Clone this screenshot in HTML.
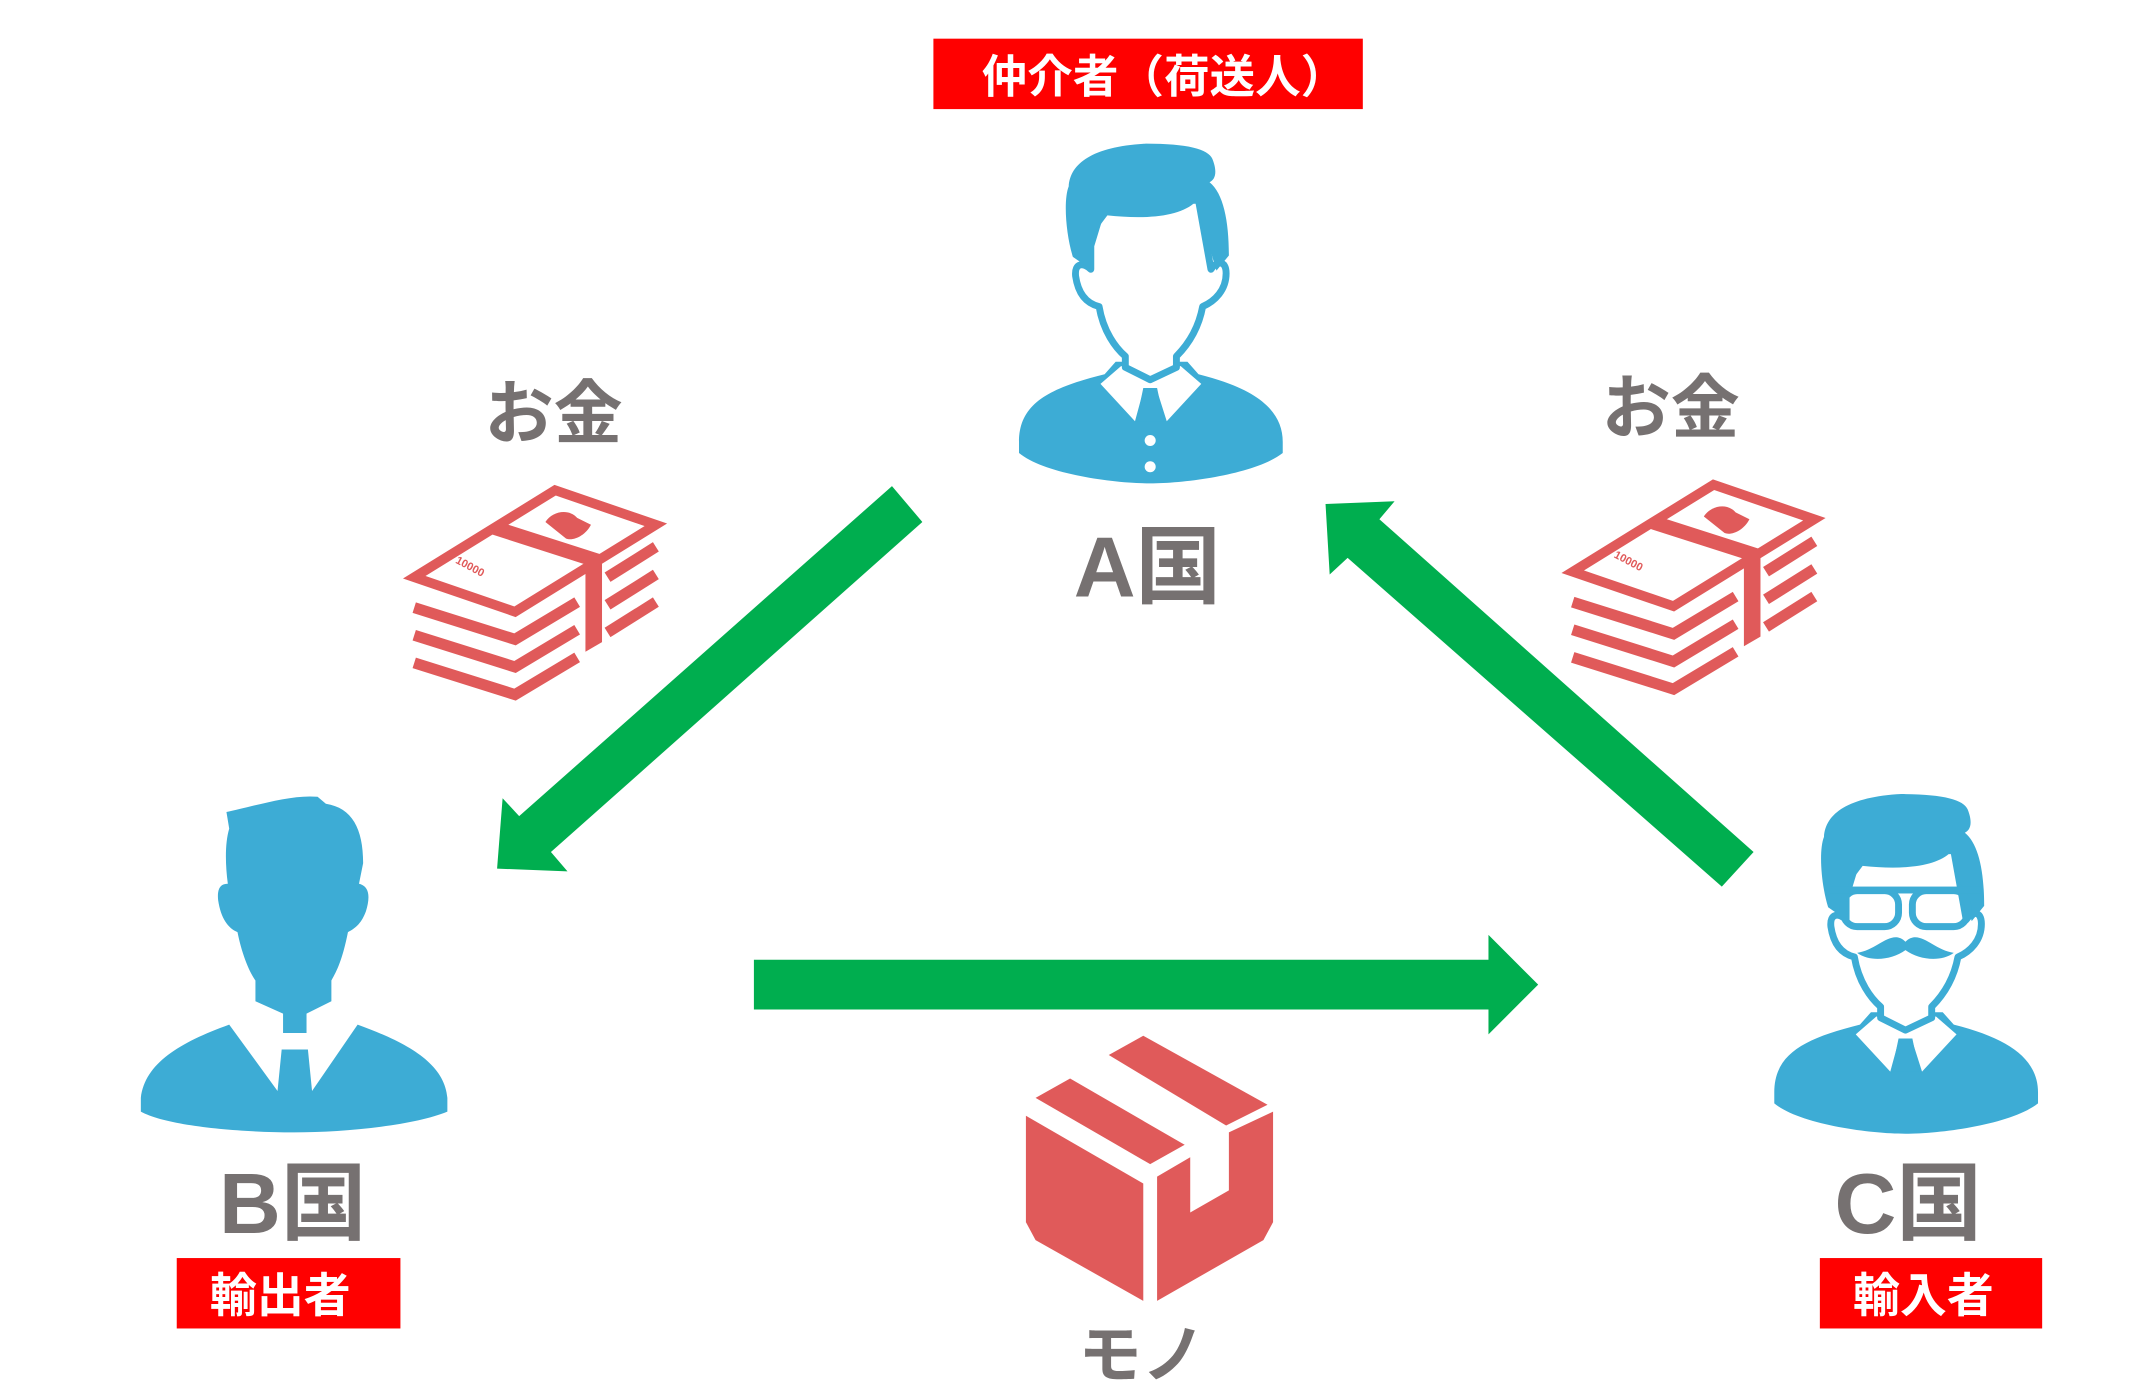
<!DOCTYPE html>
<html><head><meta charset="utf-8"><style>
html,body{margin:0;padding:0;background:#fff;}
svg{display:block;}
text{font-family:"Liberation Sans","Noto Sans CJK JP",sans-serif;font-weight:bold;}
</style></head><body>
<svg width="2154" height="1392" viewBox="0 0 1560 1008" preserveAspectRatio="none" xmlns="http://www.w3.org/2000/svg">
<defs>
<g id="money">
  <polygon points="300,418 402,355 475,380 373,443" fill="none" stroke="#e05a5a" stroke-width="7" stroke-linejoin="miter"/>
  <polyline points="300,440 373,463 418,436" fill="none" stroke="#e05a5a" stroke-width="8"/>
  <polyline points="300,460 373,483 418,456" fill="none" stroke="#e05a5a" stroke-width="8"/>
  <polyline points="300,480 373,503 418,476" fill="none" stroke="#e05a5a" stroke-width="8"/>
  <polyline points="440,418 475,396" fill="none" stroke="#e05a5a" stroke-width="8"/>
  <polyline points="440,438 475,416" fill="none" stroke="#e05a5a" stroke-width="8"/>
  <polyline points="440,458 475,436" fill="none" stroke="#e05a5a" stroke-width="8"/>
  <polygon points="350,385 362,378 440,403 428,410" fill="#e05a5a"/>
  <polygon points="424,407 436,401 436,465 424,472" fill="#e05a5a"/>
  <path d="M395,378 C400,370 412,368 418,375 L428,380 C424,388 415,392 410,390 Z" fill="#e05a5a"/>
  <text x="330" y="415" font-size="8" fill="#e05a5a" transform="rotate(28 345 410)">10000</text>
</g>
</defs>

<rect x="676" y="28" width="311" height="51" fill="#ff0000"/>
<text x="711" y="67" font-size="33" fill="#fff" textLength="264" lengthAdjust="spacingAndGlyphs">仲介者（荷送人）</text>

<g id="pa">
<path d="M738,320 C738,292 760,281 800,271 L808,262 L860,262 L868,271 C908,281 929,296 929,320 L929,328 C910,343 860,350 833,350 C806,350 756,343 738,328 Z" fill="#3dacd5"/>
<polygon points="797,278 812,265 833,277 855,265 870,278 845,305 838,283 828,283 822,305" fill="#fff"/>
<polygon points="828,281 838,281 843,305 823,305" fill="#3dacd5"/>
<path d="M790,178 L790,195 C785,190 778,190 779,200 C781,214 788,220 796,222 C799,240 808,252 815,258 L815,266 L833,275 L852,266 L852,258 C860,250 868,238 871,222 C880,218 888,210 888,198 C888,188 881,189 877,195 L868,145 L800,145 Z" fill="#fff" stroke="#3dacd5" stroke-width="5" stroke-linejoin="round"/>
<path d="M774,135 C775,118 792,106 830,104 C860,104 875,108 878,115 C882,125 880,130 876,132 C886,140 890,160 890,185 L881,196 L866,146 C855,157 830,159 802,156 L790,172 L790,195 L777,186 C772,170 770,145 774,135 Z" fill="#3dacd5"/>
</g>
<circle cx="833" cy="319" r="4" fill="#fff"/>
<circle cx="833" cy="338" r="4" fill="#fff"/>
<text x="831" y="432" font-size="62" fill="#767171" text-anchor="middle">A国</text>

<path d="M164,588 C180,585 210,575 230,577 L236,582 C255,585 263,600 263,625 L260,640 C268,642 268,650 265,660 C262,668 258,672 252,675 C248,695 244,703 240,710 L240,725 L222,734 L222,748 L205,748 L205,734 L185,725 L185,710 C180,703 175,690 172,675 C165,672 160,665 158,652 C157,643 160,640 165,640 C163,625 163,610 166,600 Z" fill="#3dacd5"/>
<path d="M102,795 C105,770 130,755 166,742 L201,790 L204,760 L223,760 L226,790 L259,742 C295,755 322,770 324,795 L324,805 C300,815 250,820 213,820 C170,820 120,815 102,805 Z" fill="#3dacd5"/>
<text x="212" y="893" font-size="62" fill="#767171" text-anchor="middle">B国</text>
<rect x="128" y="911" width="162" height="51" fill="#ff0000"/>
<text x="203" y="950" font-size="34" fill="#fff" text-anchor="middle">輸出者</text>

<use href="#pa" transform="translate(547,471)"/>
<rect x="1335" y="645" width="40" height="26" rx="10" fill="none" stroke="#3dacd5" stroke-width="5"/>
<rect x="1385" y="645" width="40" height="26" rx="10" fill="none" stroke="#3dacd5" stroke-width="5"/>
<rect x="1325" y="642" width="110" height="5" fill="#3dacd5"/>
<path d="M1345,690 C1360,688 1370,672 1380,682 C1390,672 1400,688 1415,690 C1405,697 1390,695 1380,688 C1370,695 1355,697 1345,690 Z" fill="#3dacd5"/>
<text x="1382" y="893" font-size="62" fill="#767171" text-anchor="middle">C国</text>
<rect x="1318" y="911" width="161" height="51" fill="#ff0000"/>
<text x="1393" y="950" font-size="34" fill="#fff" text-anchor="middle">輸入者</text>

<text x="401" y="317" font-size="50" fill="#767171" text-anchor="middle">お金</text>
<text x="1210" y="313" font-size="50" fill="#767171" text-anchor="middle">お金</text>
<use href="#money"/>
<use href="#money" transform="translate(839,-4)"/>

<polygon points="646,352 668,378 399,617 411,631 360,629 364,578 376,591" fill="#00ae4f"/>
<polygon points="1270,617 1247,642 976,404 963,416 960,365 1010,363 999,376" fill="#00ae4f"/>
<polygon points="546,695 1078,695 1078,677 1114,713 1078,749 1078,731 546,731" fill="#00ae4f"/>

<polygon points="743,808 828,857 828,942 750,898 743,885" fill="#e05a5a"/>
<polygon points="838,852 862,838 862,878 890,862 890,820 922,805 922,885 915,898 838,942" fill="#e05a5a"/>
<polygon points="750,795 775,781 858,829 833,843" fill="#e05a5a"/>
<polygon points="803,764 828,750 918,800 888,815" fill="#e05a5a"/>
<text x="827" y="997" font-size="46" fill="#767171" text-anchor="middle">モノ</text>
</svg>
</body></html>
